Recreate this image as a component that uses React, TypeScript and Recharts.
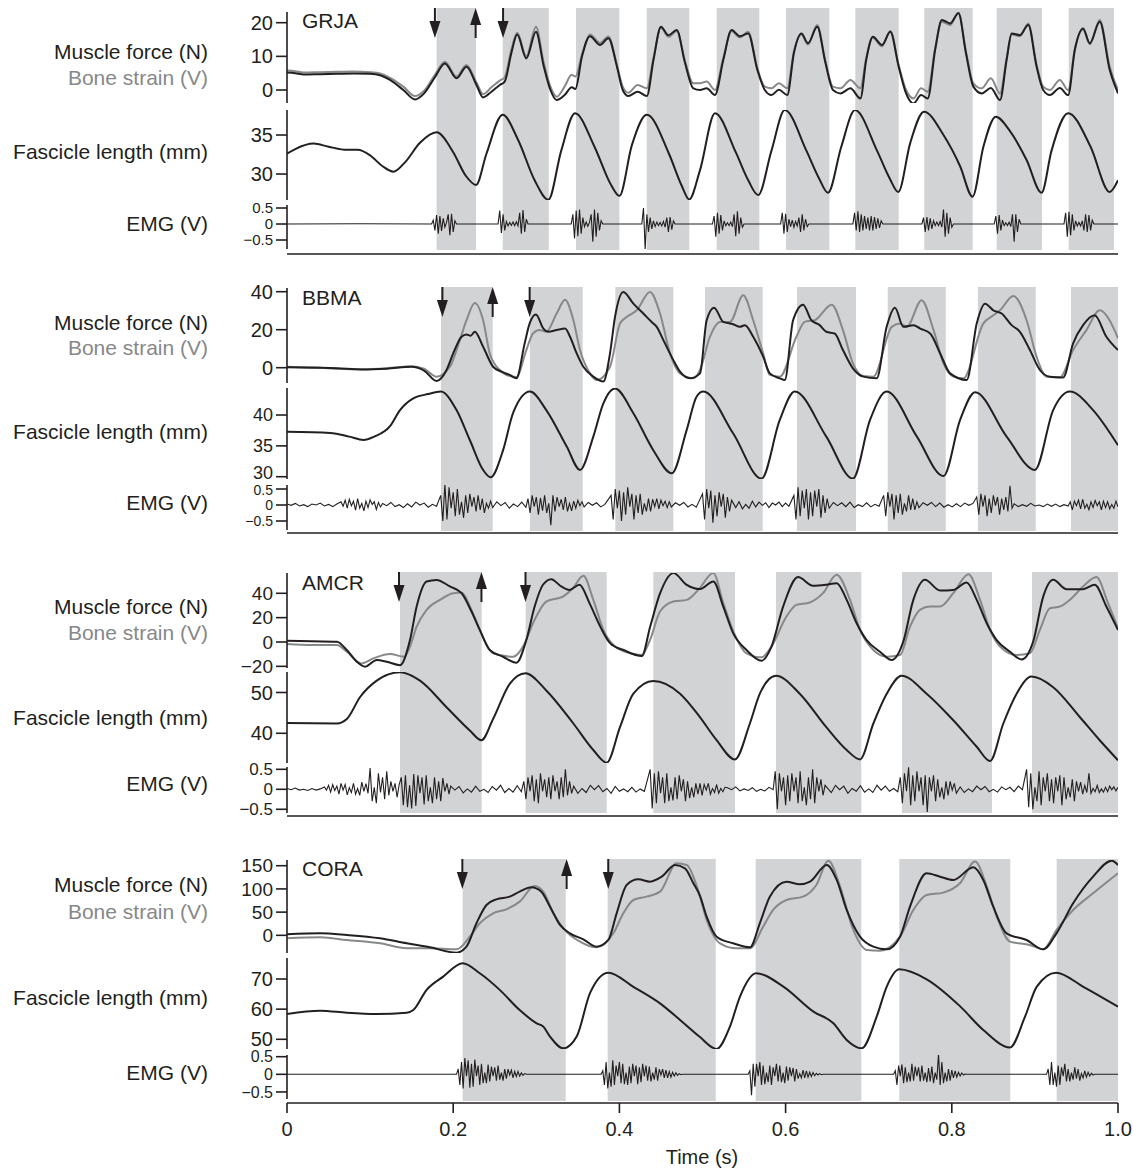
import React from "react";
import { LineChart, ComposedChart, Line, Scatter, XAxis, YAxis, ReferenceArea } from "recharts";

type Knot = [number, number];
type Burst = { t0: number; dt: number; v: number[] };
type Arrow = [number, "up" | "down"];

// ---------- GRJA ----------
const GRJA_STANCE: Knot[] = [[0.18, 0.2274], [0.2596, 0.315], [0.3478, 0.4], [0.4329, 0.4841], [0.5171, 0.5684], [0.6005, 0.6526], [0.6839, 0.7361], [0.7669, 0.8251], [0.854, 0.9086], [0.9407, 0.9952]];
const GRJA_ARROWS: Arrow[] = [[0.178, "down"], [0.227, "up"], [0.26, "down"]];
const GRJA_FORCE: Knot[] = [[0,5.2],[0.01,5.0],[0.02,4.6],[0.04,4.7],[0.06,4.8],[0.08,4.9],[0.1,4.8],[0.112,4.4],[0.124,3.0],[0.14,0],[0.154,-2.8],[0.165,-1.0],[0.178,3.8],[0.19,7.9],[0.204,3.5],[0.216,6.9],[0.228,1.5],[0.236,-2.2],[0.246,-0.5],[0.256,1.5],[0.262,2.5],[0.27,11],[0.277,16.5],[0.288,9.4],[0.2996,17.3],[0.309,7],[0.317,0],[0.3245,-3.0],[0.334,-1.5],[0.3426,0.8],[0.347,0.3],[0.355,10],[0.3646,16.0],[0.3767,13.4],[0.3867,15.4],[0.397,7],[0.404,0],[0.4107,-1.8],[0.422,-0.5],[0.433,-1.8],[0.441,8.9],[0.45,18.8],[0.459,16.3],[0.469,17.8],[0.479,8],[0.489,0.5],[0.497,0],[0.505,0.5],[0.515,-1.5],[0.525,8.9],[0.535,17.8],[0.545,16.0],[0.555,16.8],[0.566,6],[0.575,0],[0.583,-1.5],[0.592,0.1],[0.602,-1.5],[0.61,11],[0.619,16.8],[0.627,13.9],[0.638,18.8],[0.648,8],[0.657,0],[0.666,-1.0],[0.678,0.5],[0.69,-2.5],[0.697,8.9],[0.705,15.8],[0.716,13.4],[0.726,17.3],[0.736,7],[0.745,-1],[0.754,-4.0],[0.763,-1.5],[0.771,-2.5],[0.78,12],[0.788,20.8],[0.798,19.8],[0.808,22.8],[0.817,11],[0.826,1],[0.836,-1.0],[0.847,0.6],[0.858,-3.0],[0.866,9],[0.872,16.8],[0.882,16.3],[0.892,19.3],[0.902,7],[0.91,0],[0.918,-1.5],[0.93,0.6],[0.94,-1.5],[0.948,11.9],[0.958,18.3],[0.966,13.9],[0.978,20.3],[0.99,6],[1.0,-1.0]];
const GRJA_STRAIN: Knot[] = [[0,5.8],[0.01,5.6],[0.02,5.2],[0.04,5.3],[0.06,5.4],[0.08,5.5],[0.1,5.3],[0.112,4.9],[0.124,3.6],[0.14,1.0],[0.154,-1.8],[0.165,-0.2],[0.178,4.5],[0.19,8.4],[0.204,4.0],[0.216,7.4],[0.228,2.2],[0.236,-1.2],[0.246,0.8],[0.256,2.8],[0.262,3.8],[0.27,12],[0.277,17.0],[0.288,10.0],[0.2996,18.8],[0.309,8],[0.317,1.0],[0.3245,-2.0],[0.334,1.0],[0.3426,4.5],[0.347,4.0],[0.355,10.5],[0.3646,16.5],[0.3767,14.0],[0.3867,15.9],[0.397,7.5],[0.404,1.0],[0.4107,-0.8],[0.422,1.5],[0.433,0.5],[0.441,9.5],[0.45,18.5],[0.459,15.8],[0.469,17.5],[0.479,8.5],[0.489,2.0],[0.497,2.0],[0.505,2.5],[0.515,0],[0.525,9.5],[0.535,17.5],[0.545,15.6],[0.555,17.3],[0.566,6.5],[0.575,1.0],[0.583,0.5],[0.592,2.0],[0.602,0.5],[0.61,11.5],[0.619,16.5],[0.627,13.5],[0.638,19.3],[0.648,8.5],[0.657,1.0],[0.666,0.5],[0.678,3.0],[0.69,0.5],[0.697,9.5],[0.705,15.5],[0.716,13.0],[0.726,17.5],[0.736,7.5],[0.745,0],[0.754,-2.5],[0.763,0.5],[0.771,-0.5],[0.78,12.5],[0.788,20.3],[0.798,19.3],[0.808,23.0],[0.817,11.5],[0.826,2],[0.836,0.5],[0.847,3.5],[0.858,-1.0],[0.866,9.5],[0.872,16.5],[0.882,16.0],[0.892,19.8],[0.902,7.5],[0.91,1],[0.918,0],[0.93,3.0],[0.94,0],[0.948,12],[0.958,18.0],[0.966,13.6],[0.978,20.8],[0.99,7],[1.0,0]];
const GRJA_LENGTH: Knot[] = [[0,32.6],[0.01,33.2],[0.032,33.9],[0.05,33.5],[0.072,33.1],[0.085,33.1],[0.1,32.4],[0.115,31.0],[0.128,30.3],[0.142,31.5],[0.16,34.0],[0.18,35.35],[0.2,32.8],[0.215,29.8],[0.2275,28.6],[0.24,32.6],[0.2595,37.6],[0.278,34.4],[0.298,29.2],[0.3145,26.7],[0.33,33.0],[0.3466,37.8],[0.37,33.5],[0.39,28.6],[0.4,27.2],[0.415,33.7],[0.433,37.6],[0.46,32.5],[0.475,28.5],[0.484,26.75],[0.497,30.5],[0.515,37.8],[0.54,32.8],[0.555,29.2],[0.567,27.3],[0.583,33],[0.599,38.2],[0.625,33.0],[0.64,29.5],[0.651,27.6],[0.667,33.5],[0.6835,38.2],[0.71,33.0],[0.725,29.5],[0.7356,27.7],[0.75,34],[0.7666,38.0],[0.79,35.0],[0.81,31.0],[0.825,27.1],[0.838,33.5],[0.853,37.35],[0.87,35.5],[0.89,31.8],[0.908,27.6],[0.92,33],[0.94,37.8],[0.967,33.5],[0.99,27.7],[1.0,29.2]];
const GRJA_EMG: Burst[] = [
  { t0: 0, dt: 0.087, v: [0, 0.01, 0] },
  { t0: 0.174, dt: 0.002, v: [0,0.12,-0.2,0.28,-0.3,0.25,-0.22,0.18,-0.1,0.05,0.3,-0.35,0.32,-0.25,0.1,0] },
  { t0: 0.254, dt: 0.002, v: [0,0.42,-0.28,0.3,-0.2,0.08,-0.06,0.05,-0.04,0.06,-0.05,0.07,-0.06,0.35,-0.3,0.44,-0.25,0.15,0] },
  { t0: 0.342, dt: 0.002, v: [0,0.3,-0.45,0.42,-0.38,0.45,-0.3,0.2,-0.08,0.06,-0.07,0.05,0.3,-0.55,0.45,-0.4,0.35,-0.2,0.1,0] },
  { t0: 0.427, dt: 0.002, v: [0,0.5,-0.8,0.3,-0.25,0.2,-0.15,0.1,-0.08,0.06,-0.05,0.05,-0.06,0.08,-0.1,0.2,-0.25,0.22,-0.18,0.1,0] },
  { t0: 0.512, dt: 0.002, v: [0,0.25,-0.4,0.35,-0.3,0.28,-0.2,0.1,-0.05,0.04,-0.05,0.06,-0.08,0.3,-0.38,0.4,-0.3,0.2,-0.1,0] },
  { t0: 0.594, dt: 0.002, v: [0,0.35,-0.3,0.32,-0.25,0.15,-0.08,0.12,-0.1,0.08,-0.06,0.2,-0.25,0.3,-0.2,0.15,-0.08,0] },
  { t0: 0.681, dt: 0.002, v: [0,0.35,-0.2,0.4,-0.25,0.3,-0.2,0.25,-0.15,0.2,-0.2,0.25,-0.2,0.22,-0.15,0.18,-0.12,0.1,0] },
  { t0: 0.764, dt: 0.002, v: [0,0.2,-0.25,0.22,-0.2,0.18,-0.15,0.1,-0.05,0.06,-0.05,0.08,-0.1,0.45,-0.4,0.35,-0.3,0.2,-0.1,0] },
  { t0: 0.851, dt: 0.002, v: [0,0.25,-0.3,0.28,-0.2,0.12,-0.05,0.04,-0.05,0.06,-0.08,0.3,-0.55,0.3,-0.25,0.15,0] },
  { t0: 0.935, dt: 0.002, v: [0,0.35,-0.4,0.38,-0.35,0.3,-0.2,0.1,-0.06,0.05,-0.06,0.1,-0.2,0.3,-0.25,0.28,-0.2,0.12,0] },
  { t0: 1, dt: 0.01, v: [0] },
];

// ---------- BBMA ----------
const BBMA_STANCE: Knot[] = [[0.1853, 0.2475], [0.2924, 0.3558], [0.3951, 0.4649], [0.503, 0.5724], [0.6137, 0.6847], [0.7229, 0.7927], [0.8315, 0.901], [0.9434, 1.0]];
const BBMA_ARROWS: Arrow[] = [[0.187, "down"], [0.2475, "up"], [0.292, "down"]];
const BBMA_FORCE: Knot[] = [[0,0.3],[0.03,0],[0.06,-0.3],[0.09,-0.9],[0.12,-0.5],[0.15,0.5],[0.165,-1.5],[0.18,-7.0],[0.192,-1.2],[0.2,7.5],[0.21,16.3],[0.216,17.5],[0.221,16.8],[0.226,18.9],[0.236,11],[0.248,0.5],[0.258,-2.1],[0.268,-3.8],[0.276,-5.6],[0.286,12.8],[0.292,23.3],[0.2996,28],[0.3085,20.6],[0.3145,18.9],[0.3245,19.8],[0.3346,20.6],[0.3406,16.3],[0.3486,7.5],[0.3566,0.5],[0.3686,-4.7],[0.3807,-7.3],[0.3887,7.5],[0.3947,26.7],[0.4047,39.9],[0.4168,33.7],[0.4288,28.5],[0.4388,24.1],[0.4449,21.5],[0.4529,14.5],[0.4649,4.0],[0.473,-2.1],[0.485,-5.6],[0.497,-3],[0.505,25],[0.514,31.6],[0.525,24.1],[0.537,22.9],[0.545,21.5],[0.551,22.4],[0.561,16.3],[0.573,5.8],[0.581,-3.0],[0.593,-5.6],[0.599,-6.5],[0.609,25],[0.621,33.2],[0.631,25],[0.641,22.4],[0.649,18.9],[0.659,18],[0.669,9.3],[0.681,-0.3],[0.6935,-4.7],[0.7096,-5.6],[0.7216,21.5],[0.7316,31.6],[0.7417,21.5],[0.754,22.4],[0.762,20.6],[0.774,18],[0.786,7.5],[0.798,-3],[0.818,-6.5],[0.83,23.3],[0.84,33.7],[0.85,30.2],[0.86,28.5],[0.872,22.4],[0.882,18.9],[0.894,9.3],[0.906,-1.2],[0.918,-4.7],[0.934,-5.1],[0.946,12.8],[0.958,22.4],[0.972,27.6],[0.986,16.3],[1.0,9.3]];
const BBMA_STRAIN: Knot[] = [[0,0.5],[0.03,0.2],[0.06,-0.5],[0.09,-0.8],[0.12,-0.3],[0.15,0.8],[0.165,-0.5],[0.18,-4.7],[0.196,0.5],[0.208,14.5],[0.216,25],[0.226,34.1],[0.236,25],[0.244,7.5],[0.256,-1.2],[0.268,-4.4],[0.276,-4.9],[0.288,9.3],[0.296,18],[0.304,19.8],[0.312,18.9],[0.3245,28.5],[0.3346,35.8],[0.3446,25],[0.3526,9.3],[0.3646,-3],[0.3727,-6.5],[0.3887,0.5],[0.4007,23.3],[0.4087,26.7],[0.4208,30.2],[0.4368,39.9],[0.4489,28.5],[0.4609,7.5],[0.473,-3],[0.489,-5.6],[0.497,-1.2],[0.509,16.3],[0.521,24.1],[0.533,24.1],[0.549,38.1],[0.561,25],[0.573,7.5],[0.581,-3.8],[0.593,-4.7],[0.613,16.3],[0.623,24.1],[0.635,25],[0.6555,33.2],[0.669,19.8],[0.681,2.3],[0.6935,-4.4],[0.7056,-4.7],[0.7277,21.5],[0.7377,23.3],[0.7457,21.5],[0.7637,35.5],[0.778,19.8],[0.79,2.3],[0.802,-4.7],[0.814,-5.6],[0.838,23.3],[0.85,27.6],[0.858,30.2],[0.874,37.8],[0.89,25],[0.902,5.8],[0.914,-4.7],[0.93,-5.1],[0.946,9.3],[0.962,19.8],[0.978,30.2],[0.994,21.5],[1.0,15.4]];
const BBMA_LENGTH: Knot[] = [[0,37.3],[0.052,37.1],[0.075,36.5],[0.092,35.95],[0.105,36.5],[0.124,38.2],[0.136,40.8],[0.152,42.7],[0.17,43.4],[0.185,43.8],[0.204,40.8],[0.22,35.95],[0.236,31.1],[0.245,29.9],[0.26,34.3],[0.272,40.3],[0.2924,43.8],[0.312,40.8],[0.3366,34.9],[0.3526,31.1],[0.3686,36.5],[0.3807,41.9],[0.3947,44.3],[0.4168,40.3],[0.4408,34.3],[0.463,30.55],[0.481,37.6],[0.493,43.0],[0.501,43.8],[0.537,37.0],[0.571,29.7],[0.593,39.2],[0.611,43.8],[0.649,36.5],[0.681,29.7],[0.7016,39.2],[0.7216,43.8],[0.758,36.5],[0.79,30.1],[0.81,39.2],[0.828,43.7],[0.866,36.5],[0.9,31.1],[0.922,40.8],[0.942,43.8],[0.97,40.8],[1.0,35.1]];
const BBMA_EMG: Burst[] = [
  { t0: 0, dt: 0.005, v: [0.03,-0.01,0.05,-0.03,0.01,-0.05,0.03,0.0,0.06,-0.03,0.02,-0.05,0.03] },
  { t0: 0.065, dt: 0.0025, v: [0.1,-0.04,0.15,-0.1,0.18,-0.02,0.12,-0.16,0.2,-0.1,0.05,-0.18,0.12,-0.08,0.16,0.02,0.1,-0.14,0.08,-0.06] },
  { t0: 0.115, dt: 0.005, v: [0.05,-0.02,0.08,-0.05,0.01,-0.08,0.04,-0.06,0.09,0.0,0.06,-0.07,0.02,-0.04] },
  { t0: 0.185, dt: 0.0025, v: [0.3,-0.5,0.65,-0.45,0.55,-0.1,0.4,-0.35,0.5,-0.3,0.1,-0.4,0.3,-0.25,0.35,-0.05,0.25,-0.2,0.3,-0.15,0.2,-0.25,0.05,-0.1,0.12] },
  { t0: 0.2475, dt: 0.005, v: [-0.08,0.1,-0.02,0.08,-0.1,0.03,-0.05,0.09,-0.07] },
  { t0: 0.29, dt: 0.0025, v: [0.2,-0.25,0.3,-0.05,0.25,-0.3,0.22,-0.18,0.3,-0.25,0.05,-0.63,0.3,-0.2,0.25,-0.05,0.18,-0.15,0.25,-0.2,0.05,-0.18,0.12,-0.1,0.15,-0.02,0.1] },
  { t0: 0.3575, dt: 0.005, v: [-0.06,0.08,-0.01,0.07,-0.06,0.02] },
  { t0: 0.39, dt: 0.0025, v: [0.3,-0.45,0.5,-0.1,0.45,-0.5,0.4,-0.3,0.55,-0.05,0.35,-0.45,0.3,-0.25,0.35,-0.3,0.05,-0.2,0.2] },
  { t0: 0.4375, dt: 0.0025, v: [-0.2,0.18,-0.05,0.2,-0.12,0.15,-0.02,0.12,-0.08,0.1] },
  { t0: 0.4625, dt: 0.005, v: [-0.06,0.07,-0.01,0.08,-0.06,0.02,-0.07] },
  { t0: 0.5, dt: 0.0025, v: [0.35,-0.45,0.5,-0.1,0.45,-0.55,0.3,-0.35,0.4,-0.05,0.35,-0.4,0.25,-0.2,0.15] },
  { t0: 0.54, dt: 0.004, v: [-0.08,0.1,-0.12,0.02,-0.1,0.12,-0.06,0.09,-0.01,0.07,-0.08,0.06,0.0,0.09,-0.05,0.06,-0.04] },
  { t0: 0.61, dt: 0.0025, v: [0.3,-0.45,0.55,-0.35,0.45,-0.1,0.5,-0.45,0.4,-0.35,0.45,-0.05,0.5,-0.4,0.3,-0.25,0.2] },
  { t0: 0.6525, dt: 0.005, v: [-0.1,0.08,-0.02,0.07,-0.05,0.09,-0.08,0.01,-0.05,0.07,-0.06,0.02,-0.04] },
  { t0: 0.718, dt: 0.0025, v: [0.3,-0.35,0.4,-0.05,0.35,-0.45,0.3,-0.25,0.35,-0.3,0.05,-0.2,0.3,-0.15,0.2,-0.15,0.1] },
  { t0: 0.7605, dt: 0.005, v: [-0.08,0.07,-0.01,0.08,-0.05,0.06,-0.07,0.01,-0.06,0.04,-0.05,0.06,-0.01,0.05] },
  { t0: 0.83, dt: 0.0025, v: [0.25,-0.3,0.35,-0.05,0.3,-0.35,0.2,-0.25,0.3,-0.02,0.25,-0.3,0.2,-0.15,0.25,-0.2,0.6,-0.1] },
  { t0: 0.875, dt: 0.005, v: [0.04,-0.05,0.01,-0.04,0.05,-0.03,0.0,-0.05,0.03,-0.04,0.03,-0.05,0.01,-0.03] },
  { t0: 0.9425, dt: 0.0025, v: [0.1,-0.15,0.12,-0.02,0.15,-0.12,0.18,-0.1,0.02,-0.15,0.1,-0.08,0.14,-0.02,0.1,-0.15,0.12,-0.08,0.1,-0.12,0.02,-0.1,0.12,-0.06] },
];

// ---------- AMCR ----------
const AMCR_STANCE: Knot[] = [[0.136, 0.2343], [0.2872, 0.3847], [0.4408, 0.5391], [0.5884, 0.6911], [0.7401, 0.8484], [0.8965, 1.0]];
const AMCR_ARROWS: Arrow[] = [[0.1348, "down"], [0.234, "up"], [0.287, "down"]];
const AMCR_FORCE: Knot[] = [[0,1.1],[0.03,0.6],[0.06,0.3],[0.072,-6.6],[0.084,-16.2],[0.094,-20.3],[0.108,-14.8],[0.12,-16.2],[0.136,-19],[0.148,1.6],[0.156,29.1],[0.168,49.7],[0.18,51],[0.196,45.6],[0.21,40.1],[0.222,25],[0.232,9.9],[0.244,-6.6],[0.26,-12.1],[0.276,-17],[0.288,1.6],[0.298,29.1],[0.308,47],[0.318,51.6],[0.33,45.6],[0.34,42.8],[0.352,47],[0.364,31.9],[0.377,12.6],[0.389,-1.1],[0.405,-6.6],[0.427,-11.5],[0.437,12.6],[0.449,40.1],[0.465,56.6],[0.481,47],[0.497,43.5],[0.513,49.7],[0.525,29.1],[0.537,7.1],[0.553,-6.6],[0.571,-15.4],[0.583,-3.8],[0.597,29.1],[0.615,53.3],[0.633,46.1],[0.649,47],[0.6615,48.3],[0.6735,34.6],[0.6855,15.4],[0.6975,1.6],[0.7136,-8],[0.7277,-14.8],[0.7417,0.5],[0.7537,34.6],[0.7677,51.1],[0.7858,42.3],[0.8018,42.8],[0.8178,48.9],[0.83,34.6],[0.842,15.4],[0.854,1.6],[0.87,-8],[0.884,-14.3],[0.898,0.5],[0.91,37.3],[0.922,51.1],[0.938,43.4],[0.958,43.4],[0.972,47],[0.986,29.1],[1.0,9.9]];
const AMCR_STRAIN: Knot[] = [[0,-1.6],[0.03,-2.5],[0.06,-2.5],[0.072,-8],[0.0895,-17.6],[0.104,-13.5],[0.124,-9.9],[0.141,-12.1],[0.148,-3.8],[0.156,12.6],[0.168,26.4],[0.184,34.6],[0.2,40.1],[0.21,40.6],[0.222,26.4],[0.232,9.9],[0.248,-9.3],[0.272,-12.1],[0.284,-3.8],[0.296,15.4],[0.312,33.2],[0.332,37.3],[0.344,44.2],[0.3566,54.4],[0.3686,34.6],[0.3807,9.9],[0.3927,-2.5],[0.4128,-9.3],[0.4268,-10.7],[0.4368,1.6],[0.4489,25],[0.4649,33.2],[0.481,34.6],[0.495,42.8],[0.513,56.6],[0.525,32],[0.537,9],[0.553,-9.3],[0.571,-12.6],[0.583,-3.8],[0.601,20.9],[0.613,30.5],[0.629,32.4],[0.645,40.1],[0.6615,55.2],[0.6775,34.6],[0.6895,9.9],[0.7056,-6.6],[0.7217,-12.1],[0.7377,-10.7],[0.7497,12.6],[0.7617,26.4],[0.7737,29.1],[0.7858,29.1],[0.8018,40.1],[0.82,55.7],[0.834,34.6],[0.846,9.9],[0.858,-3.8],[0.878,-10.7],[0.894,-9.3],[0.906,9.9],[0.918,27.7],[0.93,29.1],[0.942,34.6],[0.958,45.6],[0.974,53.3],[0.988,31.9],[1.0,11.3]];
const AMCR_LENGTH: Knot[] = [[0,42.5],[0.06,42.4],[0.072,43.5],[0.088,48.9],[0.108,52.9],[0.136,54.95],[0.16,52.9],[0.192,46.4],[0.22,40.7],[0.234,38.3],[0.248,43.5],[0.268,52.1],[0.287,54.7],[0.312,50.5],[0.3446,42.4],[0.3686,35.9],[0.3847,32.8],[0.4007,41.5],[0.4168,49.7],[0.4408,52.8],[0.473,49.7],[0.496,44.2],[0.517,38.3],[0.539,33.6],[0.557,42.4],[0.569,49.7],[0.5884,54.1],[0.617,49.7],[0.649,41.5],[0.6735,35.9],[0.6895,33.6],[0.7056,42.4],[0.7217,49.7],[0.7397,54.1],[0.7697,49.7],[0.8018,43.2],[0.83,36.7],[0.846,33.2],[0.862,42.4],[0.878,49.7],[0.896,53.9],[0.922,51.3],[0.954,44.0],[0.978,38.3],[1.0,33.4]];
const AMCR_EMG: Burst[] = [
  { t0: 0, dt: 0.005, v: [0.02,-0.01,0.03,-0.02,0.0,-0.03,0.02,-0.02,0.01] },
  { t0: 0.045, dt: 0.0025, v: [0.06,-0.02,0.1,-0.07,0.12,-0.03,0.08,-0.12,0.15,-0.02,0.12,-0.14,0.04,-0.08,0.15,-0.12,0.02,-0.15,0.18,-0.05,0.14,-0.1] },
  { t0: 0.1, dt: 0.0025, v: [0.53,-0.3,0.05,-0.35,0.4,-0.08,0.3,-0.25,0.45,-0.15] },
  { t0: 0.125, dt: 0.0025, v: [0.2,-0.05,0.15,-0.2,0.12] },
  { t0: 0.1375, dt: 0.0025, v: [0.3,-0.4,0.35,-0.45,0.1,-0.48,0.38,-0.42,0.35,-0.1,0.3,-0.38,0.35,-0.3,0.05,-0.35,0.3,-0.25,0.2,-0.3,0.28,-0.05,0.15,-0.12] },
  { t0: 0.197, dt: 0.005, v: [0.08,-0.02,0.07,-0.09,0.01,-0.07,0.08,-0.05,0.0,-0.08,0.07,-0.02,0.1,-0.08,0.02,-0.07,0.09,-0.06] },
  { t0: 0.285, dt: 0.0025, v: [0.2,-0.25,0.3,-0.05,0.35,-0.3,0.25,-0.35,0.4,-0.05,0.25,-0.2,0.3,-0.25,0.35,-0.05,0.2,-0.25,0.3,-0.2,0.5,-0.15,0.2,-0.1] },
  { t0: 0.345, dt: 0.005, v: [0.08,-0.1,0.02,-0.08,0.1,-0.01,0.09,-0.06,0.02,-0.1,0.07,-0.05,0.01,-0.06,0.05,-0.07,0.01,-0.05] },
  { t0: 0.437, dt: 0.0025, v: [0.5,-0.48,0.4,-0.35,0.45,-0.1,0.3,-0.35,0.4,-0.3,0.05,-0.28,0.3,-0.25,0.35,-0.05,0.25,-0.3,0.2,-0.22,0.05,-0.2,0.15,-0.12,0.15] },
  { t0: 0.4995, dt: 0.0025, v: [-0.15,0.12,-0.02,0.15,-0.12,0.02,-0.08,0.12,-0.1,0.02,-0.06,0.05] },
  { t0: 0.53, dt: 0.005, v: [0.04,-0.01,0.06,-0.04,0.01,-0.03,0.04,-0.05,0.0,-0.04,0.05,-0.01] },
  { t0: 0.5875, dt: 0.0025, v: [0.45,-0.5,0.4,-0.05,0.3,-0.4,0.35,-0.3,0.4,-0.05,0.3,-0.35,0.45,-0.3,0.05,-0.4,0.3,-0.25,0.5,-0.35,0.3,-0.05,0.25,-0.15,0.1] },
  { t0: 0.655, dt: 0.005, v: [-0.08,0.1,-0.01,0.08,-0.1,0.02,-0.05,0.09,-0.07,0.01,-0.08,0.1,-0.02,0.08,-0.05,0.02,-0.06] },
  { t0: 0.738, dt: 0.0025, v: [0.3,-0.35,0.4,-0.05,0.55,-0.4,0.35,-0.3,0.45,-0.05,0.3,-0.4,0.35,-0.57,0.3,-0.05,0.35,-0.3,0.25,-0.2,0.05,-0.25,0.2,-0.15,0.2,-0.02,0.15,-0.1] },
  { t0: 0.81, dt: 0.005, v: [0.06,-0.08,0.01,-0.06,0.08,-0.01,0.07,-0.06,0.0,-0.07,0.06,-0.01,0.05,-0.06,0.08,-0.01] },
  { t0: 0.89, dt: 0.0025, v: [0.5,-0.45,0.4,-0.5,0.05,-0.3,0.45,-0.4,0.3,-0.05,0.4,-0.3,0.25,-0.35,0.3,-0.05,0.35,-0.4,0.3,-0.25,0.05,-0.2,0.25,-0.3,0.2,-0.05,0.18,-0.12] },
  { t0: 0.96, dt: 0.0025, v: [0.1,-0.08,0.4,-0.1,0.02,-0.06,0.1,-0.08,0.01,-0.07,0.05,-0.06,0.08,-0.01,0.06,-0.04,0.05] },
];

// ---------- CORA ----------
const CORA_STANCE: Knot[] = [[0.2114, 0.3354], [0.3859, 0.5159], [0.564, 0.6911], [0.7368, 0.8704], [0.9262, 1.0]];
const CORA_ARROWS: Arrow[] = [[0.211, "down"], [0.3365, "up"], [0.3866, "down"]];
const CORA_FORCE: Knot[] = [[0,2.2],[0.04,4.3],[0.072,0.7],[0.112,-6.5],[0.144,-17.2],[0.172,-25.9],[0.204,-37.4],[0.216,-24.4],[0.228,25.9],[0.24,65.4],[0.252,77.6],[0.268,83.3],[0.28,94.1],[0.294,103.4],[0.306,94.1],[0.3165,61.8],[0.3285,22.3],[0.3405,4.3],[0.3566,-8.6],[0.3726,-24.4],[0.3867,-10],[0.3967,47.4],[0.4087,108.5],[0.4228,120.7],[0.4368,115.7],[0.4509,126.4],[0.4669,151.6],[0.4789,144.4],[0.489,112.1],[0.497,85],[0.505,40.2],[0.517,-2.9],[0.537,-17.2],[0.557,-25.9],[0.569,25.9],[0.581,83.3],[0.601,115.7],[0.617,109.9],[0.6294,115.7],[0.6495,151.6],[0.6615,119.3],[0.6735,54.6],[0.6895,-2.9],[0.7056,-24.4],[0.7217,-30.2],[0.7377,-2.9],[0.7497,61.8],[0.7697,133.6],[0.7858,126.4],[0.8018,119.3],[0.8259,146.6],[0.8379,119.3],[0.8499,61.8],[0.866,4.3],[0.89,-10.1],[0.91,-30.2],[0.926,4.3],[0.946,69],[0.97,126.4],[0.9925,160.9],[1.0,151.6]];
const CORA_STRAIN: Knot[] = [[0,-6.5],[0.04,-4.3],[0.072,-10.1],[0.112,-17.2],[0.144,-28],[0.172,-28],[0.204,-30.2],[0.22,-2.9],[0.232,25.9],[0.248,47.4],[0.264,56],[0.28,72.6],[0.298,106.3],[0.3085,94.1],[0.3205,47.4],[0.3325,15.1],[0.3526,-13.6],[0.3726,-25.9],[0.3927,4.3],[0.4047,47.4],[0.4168,76.1],[0.4328,83.3],[0.4489,94.1],[0.4689,155.2],[0.481,151.6],[0.494,101.3],[0.505,33],[0.521,-17.2],[0.541,-28],[0.557,-28],[0.573,18.7],[0.585,54.6],[0.601,76.1],[0.621,83.3],[0.637,108.5],[0.6515,160.9],[0.6655,105.6],[0.6815,11.5],[0.6976,-31.6],[0.7136,-33],[0.7377,-2.9],[0.7537,54.6],[0.7697,86.9],[0.7898,92],[0.8098,112.1],[0.828,158.8],[0.842,105.6],[0.854,40.9],[0.87,-13.6],[0.894,-20.8],[0.91,-30.2],[0.926,11.5],[0.946,54.6],[0.97,90.5],[1.0,133.6]];
const CORA_LENGTH: Knot[] = [[0,58.4],[0.04,59.5],[0.072,58.8],[0.108,58.4],[0.144,58.8],[0.152,59.7],[0.168,66.4],[0.188,70.8],[0.2114,75.2],[0.232,71.9],[0.256,66.4],[0.28,59.7],[0.3004,55.3],[0.3085,54.2],[0.3165,50.9],[0.3325,47.0],[0.3486,50.9],[0.3646,65.3],[0.3867,72.1],[0.4168,67.4],[0.4489,61.9],[0.473,56.4],[0.4962,50.9],[0.517,46.8],[0.533,54.2],[0.545,64.1],[0.5644,71.9],[0.5973,67.5],[0.6335,59.2],[0.6575,55.3],[0.6735,49.8],[0.6915,47.0],[0.7096,57.5],[0.7216,67.4],[0.7368,73.2],[0.7697,69.9],[0.8098,61.0],[0.8379,53.1],[0.87,47.3],[0.8881,57.5],[0.9021,67.4],[0.9254,72.1],[0.9583,67.4],[1.0,60.8]];
const CORA_EMG: Burst[] = [
  { t0: 0, dt: 0.1, v: [0, 0] },
  { t0: 0.204, dt: 0.002, v: [0,0.15,-0.3,0.35,-0.4,0.46,-0.05,0.4,-0.38,0.3,-0.35,0.42,-0.05,0.25,-0.3,0.3,-0.25,0.05,-0.25,0.28,-0.2,0.22,-0.05,0.2,-0.18,0.25,-0.15,0.05,-0.18,0.15,-0.12,0.15,-0.02,0.12,-0.1,0.08,-0.06,0.08,-0.05,0.04,-0.03,0.02,0] },
  { t0: 0.378, dt: 0.002, v: [0,0.1,-0.3,0.35,-0.4,0.05,-0.35,0.4,-0.3,0.25,-0.05,0.35,-0.25,0.3,-0.28,0.05,-0.3,0.22,-0.25,0.3,-0.05,0.25,-0.28,0.2,-0.22,0.3,-0.05,0.25,-0.18,0.22,-0.2,0.05,-0.15,0.2,-0.18,0.15,-0.02,0.15,-0.1,0.12,-0.1,0.08,-0.08,0.06,-0.05,0.04,-0.03,0.02,-0.01,0] },
  { t0: 0.555, dt: 0.002, v: [0,0.1,-0.59,0.3,-0.35,0.3,-0.05,0.35,-0.3,0.25,-0.28,0.05,-0.22,0.25,-0.3,0.2,-0.05,0.3,-0.2,0.25,-0.22,0.05,-0.25,0.22,-0.18,0.2,-0.05,0.18,-0.2,0.15,-0.12,0.02,-0.1,0.12,-0.1,0.1,-0.08,0.06,-0.06,0.05,-0.04,0.03,-0.02,0.02,-0.01,0] },
  { t0: 0.73, dt: 0.002, v: [0,0.1,-0.3,0.25,-0.05,0.28,-0.25,0.2,-0.22,0.05,-0.2,0.3,-0.18,0.22,-0.05,0.2,-0.2,0.25,-0.18,0.05,-0.22,0.18,-0.2,0.22,-0.25,0.05,-0.15,0.58,-0.3,0.35,-0.25,0.05,-0.2,0.15,-0.18,0.12,-0.1,0.1,-0.08,0.06,-0.05,0.04,-0.02,0.01,0] },
  { t0: 0.914, dt: 0.002, v: [0,0.15,-0.3,0.35,-0.3,0.05,-0.35,0.25,-0.3,0.2,-0.05,0.3,-0.2,0.15,-0.2,0.05,-0.15,0.2,-0.12,0.15,-0.18,0.02,-0.1,0.1,-0.08,0.06,-0.05,0.03,-0.02,0] },
  { t0: 1, dt: 0.01, v: [0] },
];

const INK = "#231f20";
const GREY = "#86888a";
const SHADE = "#d1d3d4";
const FONT = "'Liberation Sans', Arial, Helvetica, sans-serif";
const W = 1133;
const H = 1172;
const X0 = 287;
const X1 = 1118;

const knots = (k: Knot[]) => k.map(([t, v]) => ({ t, v }));
const samples = (b: Burst[]) => b.flatMap((s) => s.v.map((v, i) => ({ t: s.t0 + i * s.dt, v })));
const fmt = (v: number) => (v < 0 ? "\u2212" + Math.abs(v) : String(v));

type Trace = { top: number; bottom: number; domain: [number, number]; ticks: number[]; size: number; nudge?: Record<string, number> };

const PANELS = [
  {
    name: "GRJA", nameY: 21, shadeTop: 8, shadeBottom: 250, axisY: 254, xTicks: [0, 0.2, 0.4, 0.6, 0.8, 1], labelled: false,
    stance: GRJA_STANCE, arrows: GRJA_ARROWS, force: GRJA_FORCE, strain: GRJA_STRAIN, length: GRJA_LENGTH, emg: GRJA_EMG,
    f: { top: 12, bottom: 103, domain: [-3.86, 23.18], ticks: [0, 10, 20], size: 20 },
    l: { top: 110, bottom: 200, domain: [26.67, 38.21], ticks: [30, 35], size: 20 },
    e: { top: 205, bottom: 249, domain: [-0.781, 0.594], ticks: [-0.5, 0, 0.5], size: 15 },
    ys: [52, 78, 152, 224],
  },
  {
    name: "BBMA", nameY: 298, shadeTop: 287, shadeBottom: 531, axisY: 533, xTicks: [0.1, 0.3, 0.5, 0.7, 0.9], labelled: false,
    stance: BBMA_STANCE, arrows: BBMA_ARROWS, force: BBMA_FORCE, strain: BBMA_STRAIN, length: BBMA_LENGTH, emg: BBMA_EMG,
    f: { top: 288, bottom: 383, domain: [-8.05, 41.95], ticks: [0, 20, 40], size: 20 },
    l: { top: 388, bottom: 479, domain: [29.63, 44.38], ticks: [30, 35, 40], size: 18, nudge: { "30": -4 } },
    e: { top: 485, bottom: 530, domain: [-0.781, 0.625], ticks: [-0.5, 0, 0.5], size: 14, nudge: { "0.5": 1.5 } },
    ys: [323, 348, 432, 503],
  },
  {
    name: "AMCR", nameY: 583, shadeTop: 572, shadeBottom: 813, axisY: 816, xTicks: [0, 0.2, 0.4, 0.6, 0.8, 1], labelled: false,
    stance: AMCR_STANCE, arrows: AMCR_ARROWS, force: AMCR_FORCE, strain: AMCR_STRAIN, length: AMCR_LENGTH, emg: AMCR_EMG,
    f: { top: 573, bottom: 668, domain: [-21.36, 56.67], ticks: [-20, 0, 20, 40], size: 19 },
    l: { top: 672, bottom: 763, domain: [32.72, 55.02], ticks: [40, 50], size: 20 },
    e: { top: 767, bottom: 813, domain: [-0.593, 0.558], ticks: [-0.5, 0, 0.5], size: 17 },
    ys: [607, 633, 718, 784],
  },
  {
    name: "CORA", nameY: 869, shadeTop: 859, shadeBottom: 1101, axisY: 1103, xTicks: [0, 0.2, 0.4, 0.6, 0.8, 1], labelled: true,
    stance: CORA_STANCE, arrows: CORA_ARROWS, force: CORA_FORCE, strain: CORA_STRAIN, length: CORA_LENGTH, emg: CORA_EMG,
    f: { top: 860, bottom: 953, domain: [-38.1, 162.3], ticks: [0, 50, 100, 150], size: 19 },
    l: { top: 958, bottom: 1049, domain: [46.78, 76.97], ticks: [50, 60, 70], size: 20 },
    e: { top: 1055, bottom: 1099, domain: [-0.7, 0.548], ticks: [-0.5, 0, 0.5], size: 16 },
    ys: [885, 912, 998, 1073],
  },
];

const arrowShape = (p: any) => {
  const { cx, cy, payload } = p;
  const len = 30, hw = 5.5, hh = 17;
  const down = payload.dir === "down";
  const tip = down ? cy + len : cy;
  const base = down ? tip - hh : tip + hh;
  const tail = down ? cy : cy + len;
  return (
    <g>
      <line x1={cx} y1={tail} x2={cx} y2={base} stroke={INK} strokeWidth={2} />
      <polygon points={`${cx - hw},${base} ${cx + hw},${base} ${cx},${tip}`} fill={INK} />
    </g>
  );
};

function Backdrop({ p }: { p: any }) {
  const plotH = p.axisY - p.shadeTop;
  const axisH = p.labelled ? 44 : 12;
  const y1 = (p.axisY - p.shadeBottom) / plotH;
  const marks = p.arrows.map(([t, dir]: Arrow) => ({ t, y: 1, dir }));
  return (
    <div style={{ position: "absolute", left: 0, top: p.shadeTop }}>
      <ComposedChart width={W} height={plotH + axisH} margin={{ top: 0, right: W - X1, bottom: 0, left: X0 }}>
        <XAxis
          type="number" dataKey="t" domain={[0, 1]} allowDataOverflow ticks={p.xTicks} interval={0} height={axisH}
          tickSize={10} tickMargin={9}
          tick={p.labelled ? { fill: INK, fontSize: 20, fontFamily: FONT } : false}
          tickFormatter={(v: number) => (v === 0 ? "0" : v.toFixed(1))}
          axisLine={{ stroke: INK, strokeWidth: 1.6 }} tickLine={{ stroke: INK, strokeWidth: 1.6 }}
        />
        <YAxis type="number" domain={[0, 1]} allowDataOverflow hide />
        {p.stance.map(([a, b]: Knot, i: number) => (
          <ReferenceArea key={i} x1={a} x2={b} y1={y1} y2={1} fill={SHADE} fillOpacity={1} stroke="none" />
        ))}
        <Scatter data={marks} dataKey="y" shape={arrowShape} isAnimationActive={false} />
      </ComposedChart>
    </div>
  );
}

function Strip({ cfg, lines }: { cfg: Trace; lines: { rows: any[]; color: string; width: number; curve: any }[] }) {
  const tick = (tp: any) => {
    const v = tp.payload.value;
    const dy = (cfg.nudge && cfg.nudge[String(v)]) || 0;
    return (
      <text x={tp.x} y={tp.y + dy} dy="0.355em" textAnchor="end" fill={INK} fontSize={cfg.size} fontFamily={FONT}>
        {fmt(v)}
      </text>
    );
  };
  return (
    <div style={{ position: "absolute", left: 0, top: cfg.top }}>
      <LineChart width={W} height={cfg.bottom - cfg.top} margin={{ top: 0, right: W - X1, bottom: 0, left: 0 }}>
        <XAxis type="number" dataKey="t" domain={[0, 1]} allowDataOverflow hide />
        <YAxis
          type="number" width={X0} domain={cfg.domain} ticks={cfg.ticks} interval={0} allowDataOverflow
          tickSize={11} tickMargin={3} tick={tick}
          axisLine={{ stroke: INK, strokeWidth: 1.6 }} tickLine={{ stroke: INK, strokeWidth: 1.6 }}
        />
        {lines.map((s, i) => (
          <Line key={i} data={s.rows} dataKey="v" type={s.curve} stroke={s.color} strokeWidth={s.width}
            dot={false} activeDot={false} isAnimationActive={false} />
        ))}
      </LineChart>
    </div>
  );
}

const label = (text: string, y: number, color: string) => (
  <div key={text + y} style={{ position: "absolute", left: 0, width: 208, top: y - 12, lineHeight: "24px", textAlign: "right", fontFamily: FONT, fontSize: 21, color, whiteSpace: "nowrap" }}>
    {text}
  </div>
);

function Panel({ p }: { p: any }) {
  return (
    <>
      <Backdrop p={p} />
      <Strip cfg={p.f} lines={[
        { rows: knots(p.strain), color: GREY, width: 2, curve: "monotone" },
        { rows: knots(p.force), color: INK, width: 2, curve: "monotone" },
      ]} />
      <Strip cfg={p.l} lines={[{ rows: knots(p.length), color: INK, width: 2, curve: "monotone" }]} />
      <Strip cfg={p.e} lines={[{ rows: samples(p.emg), color: INK, width: 1.1, curve: "linear" }]} />
      {label("Muscle force (N)", p.ys[0], INK)}
      {label("Bone strain (V)", p.ys[1], GREY)}
      {label("Fascicle length (mm)", p.ys[2], INK)}
      {label("EMG (V)", p.ys[3], INK)}
      <div style={{ position: "absolute", left: 302, top: p.nameY - 12, lineHeight: "24px", fontFamily: FONT, fontSize: 21, color: INK }}>
        {p.name}
      </div>
    </>
  );
}

export default function App() {
  return (
    <div style={{ position: "absolute", left: 0, top: 0, width: W, height: H, background: "#fff", overflow: "hidden" }}>
      <style>{`.recharts-surface{overflow:visible}`}</style>
      {PANELS.map((p) => (
        <Panel key={p.name} p={p} />
      ))}
      <div style={{ position: "absolute", left: 602, width: 200, top: 1145, lineHeight: "24px", textAlign: "center", fontFamily: FONT, fontSize: 20, color: INK }}>
        Time (s)
      </div>
    </div>
  );
}
